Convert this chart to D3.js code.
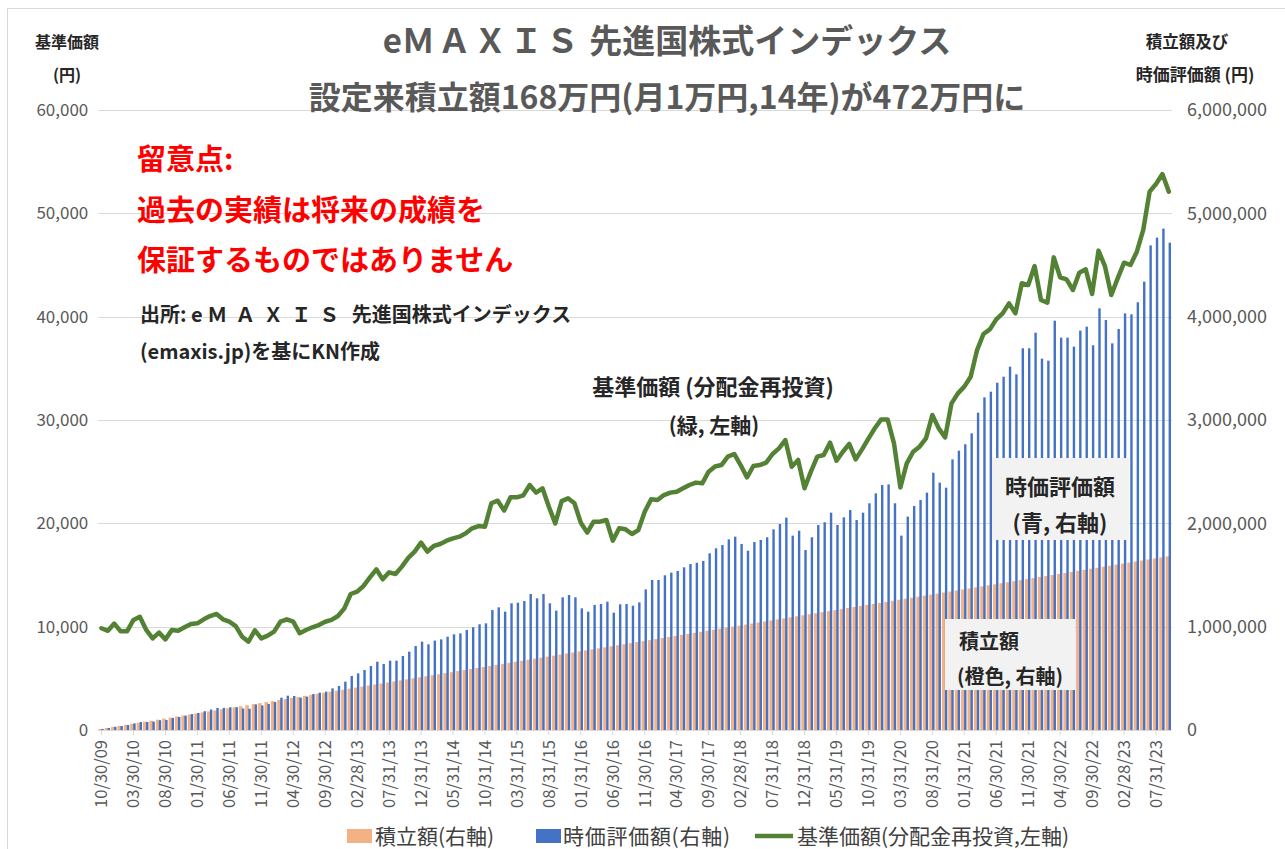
<!DOCTYPE html>
<html><head><meta charset="utf-8">
<script src="https://cdn.jsdelivr.net/npm/d3@7"></script>
<style>
body{margin:0;background:#fff}
svg{display:block}
text{font-family:"Noto Sans CJK JP","Noto Sans",sans-serif}
</style>
</head><body><svg id="c" width="1285" height="849"></svg>
<script>
// ---- data ----
const tickLabels = ["10/30/09","03/30/10","08/30/10","01/30/11","06/30/11","11/30/11","04/30/12","09/30/12",
 "02/28/13","07/31/13","12/31/13","05/31/14","10/31/14","03/31/15","08/31/15","01/31/16","06/30/16",
 "11/30/16","04/30/17","09/30/17","02/28/18","07/31/18","12/31/18","05/31/19","10/31/19","03/31/20",
 "08/31/20","01/31/21","06/30/21","11/30/21","04/30/22","09/30/22","02/28/23","07/31/23"];
const tickEvery = 5; // months between labelled ticks

// 基準価額 (分配金再投資), yen, monthly from Oct 2009
const nav = [
 9850, 9600,10300, 9550, 9550,10650,10950, 9680, 8870, 9420, 8770, 9680, 9610, 9940,10260,10320,10710,11030,11230,10710,10480,10060, 9030, 8550,
 9650, 8870, 9130, 9520,10480,10710,10480, 9360, 9680, 9940,10160,10480,10650,11030,11770,13160,13390,13940,14770,15550,14580,15260,15100,15810,
 16650,17260,18130,17260,17810,18000,18320,18550,18710,19030,19520,19740,19680,21940,22190,21230,22520,22520,22710,23710,22970,23390,21610,20000,
 22150,22420,21940,20060,19100,20160,20160,20320,18320,19520,19420,18970,19350,21130,22320,22260,22740,22970,23060,23390,23710,23940,23870,25000,
 25500,25640,26450,26710,25640,24450,25550,25640,25870,26710,27260,28060,25480,26130,23390,25000,26450,26610,27810,26060,26930,27680,26190,27160,
 28200,29200,30060,30060,27740,23480,25810,26930,27420,28230,30480,29190,28320,31610,32580,33230,34190,36770,38320,38770,39740,40320,41290,40320,
 43230,43060,44900,41610,41350,45740,43810,43610,42580,44260,44580,42190,46390,44900,42100,43710,45220,45000,46290,48390,52100,52840,53800,52100
];
// 時価評価額, 万円
const valueMan = [
 1.0, 1.95, 3.1, 3.85, 4.8, 6.4, 7.7, 7.8, 8.1, 9.5, 9.7, 11.7, 12.6, 13.9, 15.4, 16.5, 18.2, 19.8, 21.3, 21.4, 22.0, 22.1, 20.8, 20.6,
 24.8, 23.8, 25.2, 27.0, 31.3, 33.2, 32.9, 31.3, 32.3, 34.8, 36.1, 37.1, 40.3, 42.6, 46.8, 52.3, 54.8, 58.1, 61.9, 66.1, 63.9, 67.1, 67.1, 71.6,
 75.8, 81.3, 85.5, 82.9, 86.5, 87.7, 90.3, 92.6, 93.5, 96.8, 99.4, 102.3, 103.2, 116.1, 118.7, 114.5, 122.6, 123.2, 124.8, 131.6, 127.4, 131.6, 122.6, 115.5,
 128.4, 130.6, 128.4, 117.7, 114.5, 121.0, 121.9, 124.2, 113.5, 121.6, 121.9, 120.3, 123.5, 136.1, 145.2, 145.2, 149.7, 152.3, 153.9, 157.4, 160.6, 161.9, 163.6, 171.0,
 175.8, 179.0, 184.5, 187.1, 180.0, 173.5, 181.9, 183.9, 186.5, 194.2, 199.4, 205.5, 188.1, 192.9, 174.2, 186.5, 198.4, 201.0, 210.3, 198.4, 205.8, 212.9, 203.2, 210.3,
 219.4, 229.0, 237.1, 237.7, 219.4, 188.1, 206.5, 216.8, 222.6, 229.7, 249.0, 239.4, 234.5, 261.9, 270.3, 276.5, 287.1, 307.1, 321.9, 327.4, 336.1, 341.9, 351.6, 344.2,
 369.4, 369.4, 384.5, 359.4, 357.4, 396.1, 379.7, 379.7, 371.0, 386.5, 390.3, 372.3, 408.1, 396.8, 374.2, 388.1, 403.2, 402.3, 413.9, 433.9, 469.0, 476.5, 485.2, 471.6
];
// 積立額, 万円
const contribMan = [
   1,  2,  3,  4,  5,  6,  7,  8,  9, 10, 11, 12, 13, 14, 15, 16, 17, 18, 19, 20, 21, 22, 23, 24,
  25, 26, 27, 28, 29, 30, 31, 32, 33, 34, 35, 36, 37, 38, 39, 40, 41, 42, 43, 44, 45, 46, 47, 48,
  49, 50, 51, 52, 53, 54, 55, 56, 57, 58, 59, 60, 61, 62, 63, 64, 65, 66, 67, 68, 69, 70, 71, 72,
  73, 74, 75, 76, 77, 78, 79, 80, 81, 82, 83, 84, 85, 86, 87, 88, 89, 90, 91, 92, 93, 94, 95, 96,
  97, 98, 99,100,101,102,103,104,105,106,107,108,109,110,111,112,113,114,115,116,117,118,119,120,
 121,122,123,124,125,126,127,128,129,130,131,132,133,134,135,136,137,138,139,140,141,142,143,144,
 145,146,147,148,149,150,151,152,153,154,155,156,157,158,159,160,161,162,163,164,165,166,167,168
];
const leftTicks = [0,10000,20000,30000,40000,50000,60000];
const rightTicks = [0,1000000,2000000,3000000,4000000,5000000,6000000];
const MAN = 10000;

// ---- drawing ----
const svg = d3.select("#c");
const C = {orange:"#F4B183", blue:"#4472C4", green:"#548235", grid:"#D9D9D9", axis:"#595959", red:"#FF0000", text:"#262626"};
const L = 98.3, R = 1172, T = 110, B = 730;

const idx = d3.range(nav.length);
const x = d3.scaleBand().domain(idx).range([L, R]).padding(0);
const cx = i => x(i) + x.bandwidth()/2;
const yL = d3.scaleLinear().domain([0, 60000]).range([B, T]);
const yR = d3.scaleLinear().domain([0, 6000000]).range([B, T]);

// chart border
svg.append("rect").attr("x",7.5).attr("y",8.5).attr("width",1290).attr("height",860)
  .attr("fill","none").attr("stroke","#D9D9D9").attr("stroke-width",1);

// gridlines
svg.append("g").selectAll("line").data(leftTicks).join("line")
  .attr("x1",L).attr("x2",R).attr("y1",d=>Math.round(yL(d))+0.5).attr("y2",d=>Math.round(yL(d))+0.5)
  .attr("stroke",C.grid).attr("stroke-width",1);

// left axis labels
const gL = svg.append("g").attr("transform",`translate(${L},0)`)
  .call(d3.axisLeft(yL).tickValues(leftTicks).tickSize(0).tickPadding(10).tickFormat(d3.format(",")));
gL.select(".domain").remove();
gL.selectAll("text").attr("fill",C.axis).attr("font-size",17).attr("font-family","'Noto Sans CJK JP',sans-serif");

const gR = svg.append("g").attr("transform",`translate(${R},0)`)
  .call(d3.axisRight(yR).tickValues(rightTicks).tickSize(0).tickPadding(15).tickFormat(d3.format(",")));
gR.select(".domain").remove();
gR.selectAll("text").attr("fill",C.axis).attr("font-size",18).attr("font-family","'Noto Sans CJK JP',sans-serif");

// bars
svg.append("g").selectAll("rect").data(idx).join("rect")
  .attr("x",i=>cx(i)-3.2).attr("width",3.6)
  .attr("y",i=>yR(contribMan[i]*MAN)).attr("height",i=>B-yR(contribMan[i]*MAN))
  .attr("fill",C.orange);
svg.append("g").selectAll("rect").data(idx).join("rect")
  .attr("x",i=>cx(i)-0.2).attr("width",2.4)
  .attr("y",i=>yR(valueMan[i]*MAN)).attr("height",i=>B-yR(valueMan[i]*MAN))
  .attr("fill",C.blue);

// x axis
const tickIdx = tickLabels.map((_,k)=>k*tickEvery);
const gX = svg.append("g").attr("transform",`translate(0,${B})`)
  .call(d3.axisBottom(x).tickValues(tickIdx).tickSize(5).tickPadding(8)
        .tickFormat((d,k)=>tickLabels[k]));
gX.select(".domain").attr("stroke",C.grid).attr("d",`M${L},0.5H${R}`);
gX.selectAll(".tick line").attr("stroke",C.grid);
gX.selectAll("text").attr("fill",C.axis).attr("font-size",16.5)
  .attr("font-family","'Noto Sans CJK JP',sans-serif")
  .attr("transform","rotate(-90)").attr("text-anchor","end")
  .attr("x",-10).attr("y",0).attr("dy","0.35em");

// green line
svg.append("path").datum(idx)
  .attr("d", d3.line().x(i=>cx(i)).y(i=>yL(nav[i])))
  .attr("fill","none").attr("stroke",C.green).attr("stroke-width",4.5)
  .attr("stroke-linejoin","round").attr("stroke-linecap","round");

// text helpers
const t = (x0,y0,s,opt={}) => svg.append("text").attr("x",x0).attr("y",y0).text(s)
    .attr("font-size",opt.size||16).attr("font-weight",opt.weight||"bold")
    .attr("fill",opt.fill||C.text).attr("text-anchor",opt.anchor||"start");
// text with spaced-out full-width letters in the middle part
const tSpaced = (x0,y0,parts,opt) => {
  const el = svg.append("text").attr("x",x0).attr("y",y0)
    .attr("font-size",opt.size).attr("font-weight","bold")
    .attr("fill",opt.fill||C.text).attr("text-anchor",opt.anchor||"start");
  parts.forEach(p => el.append("tspan").text(p.s).attr("letter-spacing",p.ls||0));
  return el;
};
tSpaced(667,53,[{s:"e"},{s:"ＭＡＸＩＳ",ls:3},{s:" 先進国株式インデックス"}],{size:33,anchor:"middle",fill:C.axis});
t(667,109,"設定来積立額168万円(月1万円,14年)が472万円に",{size:32,anchor:"middle",fill:C.axis});
t(67,48,"基準価額",{size:16,anchor:"middle"});
t(67,81,"(円)",{size:16,anchor:"middle"});
t(1187,48,"積立額及び",{size:16.5,anchor:"middle"});
t(1195,81,"時価評価額 (円)",{size:17,anchor:"middle"});

// annotations
t(137,170,"留意点:",{size:29,fill:C.red});
t(137,221,"過去の実績は将来の成績を",{size:29,fill:C.red});
t(137,271,"保証するものではありません",{size:29,fill:C.red});
tSpaced(140,322,[{s:"出所:  e "},{s:"ＭＡＸＩＳ",ls:8},{s:" 先進国株式インデックス"}],{size:20});
t(140,359,"(emaxis.jp)を基にKN作成",{size:20});
t(713,395,"基準価額 (分配金再投資)",{size:22,anchor:"middle"});
t(714,433,"(緑, 左軸)",{size:21,anchor:"middle"});

svg.append("rect").attr("x",992).attr("y",458).attr("width",137).attr("height",82).attr("fill","#F2F2F2");
t(1060,495,"時価評価額",{size:22,anchor:"middle"});
t(1060,531,"(青, 右軸)",{size:22,anchor:"middle"});
svg.append("rect").attr("x",945).attr("y",619).attr("width",130).attr("height",71).attr("fill","#F2F2F2");
t(959,649,"積立額",{size:20});
t(957,684,"(橙色, 右軸)",{size:20});

// legend
const lg = svg.append("g");
lg.append("rect").attr("x",347).attr("y",829).attr("width",25).attr("height",14).attr("fill",C.orange);
t(375,844,"積立額(右軸)",{size:21,weight:"normal",fill:"#404040"});
lg.append("rect").attr("x",536).attr("y",829).attr("width",25).attr("height",14).attr("fill",C.blue);
t(563,844,"時価評価額(右軸)",{size:21,weight:"normal",fill:"#404040"}).attr("textLength",167).attr("lengthAdjust","spacing");
lg.append("line").attr("x1",755).attr("x2",793).attr("y1",836).attr("y2",836).attr("stroke",C.green).attr("stroke-width",4.5);
t(797,844,"基準価額(分配金再投資,左軸)",{size:21,weight:"normal",fill:"#404040"});
</script>
</body></html>
